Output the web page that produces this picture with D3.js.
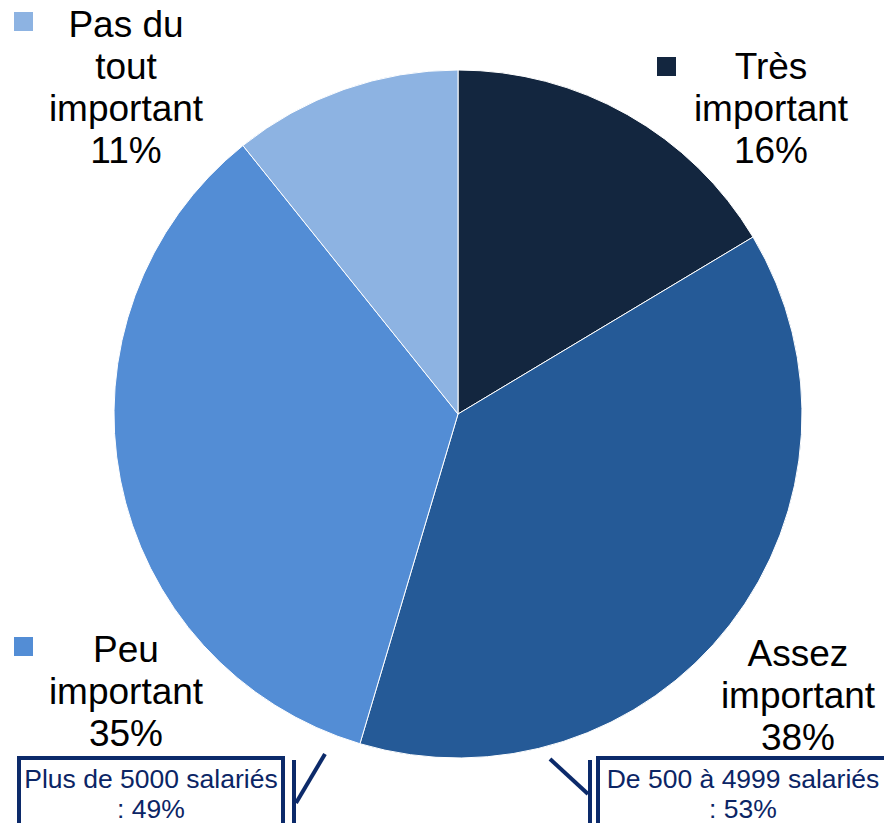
<!DOCTYPE html>
<html>
<head>
<meta charset="utf-8">
<script src="https://cdn.jsdelivr.net/npm/d3@7"></script>
<style>
  body { margin: 0; background: #fff; }
  text { font-family: "Liberation Sans", Arial, sans-serif; }
</style>
</head>
<body>
<div id="chart"></div>
<script>
// data
const categories = ["Très important", "Assez important", "Peu important", "Pas du tout important"];
const values = [16.4, 38.2, 34.65, 10.75];
const colors = ["#13263f", "#255a97", "#538dd5", "#8db3e2"];
const labelLines = [
  ["Très", "important"],
  ["Assez", "important"],
  ["Peu", "important"],
  ["Pas du", "tout", "important"]
];
const calloutTexts = [
  ["Plus de 5000 salariés", ": 49%"],
  ["De 500 à 4999 salariés", ": 53%"]
];

const width = 884, height = 823;
const cx = 458, cy = 414, radius = 344;

const svg = d3.select("#chart").append("svg")
  .attr("width", width)
  .attr("height", height);

const pie = d3.pie().sort(null).value(d => d);
const arc = d3.arc().innerRadius(0).outerRadius(radius);

const pieG = svg.append("g").attr("transform", `translate(${cx},${cy})`);
pieG.selectAll("path")
  .data(pie(values))
  .join("path")
  .attr("d", arc)
  .attr("fill", (d, i) => colors[i])
  .attr("stroke", "#fff")
  .attr("stroke-width", 1);

// label layout (legend marker + centered text block)
const labelLayout = [
  { marker: [657, 57], x: 771, y: 79 },
  { marker: null, x: 798, y: 666 },
  { marker: [14, 637], x: 126, y: 662 },
  { marker: [14, 12], x: 126, y: 37 }
];
const lineH = 42;

labelLayout.forEach((l, i) => {
  if (l.marker) {
    svg.append("rect")
      .attr("x", l.marker[0]).attr("y", l.marker[1])
      .attr("width", 19).attr("height", 19)
      .attr("fill", colors[i]);
  }
  const lines = labelLines[i].concat([Math.round(values[i]) + "%"]);
  const t = svg.append("text")
    .attr("text-anchor", "middle")
    .attr("font-size", 37)
    .attr("fill", "#000");
  lines.forEach((s, j) => {
    t.append("tspan").attr("x", l.x).attr("y", l.y + j * lineH).text(s);
  });
});

// callout boxes
const navy = "#0c2a6a";
const boxes = [
  { x: 19, y: 758, w: 264, cx: 151 },
  { x: 598, y: 758, w: 290, cx: 743 }
];
boxes.forEach((b, i) => {
  svg.append("rect")
    .attr("x", b.x).attr("y", b.y)
    .attr("width", b.w).attr("height", 100)
    .attr("fill", "#fff")
    .attr("stroke", navy).attr("stroke-width", 4);
  const t = svg.append("text")
    .attr("text-anchor", "middle")
    .attr("font-size", 26.5)
    .attr("fill", "#0b2565");
  calloutTexts[i].forEach((s, j) => {
    t.append("tspan").attr("x", b.cx).attr("y", 788 + j * 30).text(s);
  });
});

// connector brackets
const lineStyle = sel => sel.attr("stroke", navy).attr("stroke-width", 4).attr("fill", "none");
svg.append("line").attr("x1", 294).attr("y1", 760).attr("x2", 294).attr("y2", 823).call(lineStyle);
svg.append("line").attr("x1", 296).attr("y1", 803).attr("x2", 325).attr("y2", 754).call(lineStyle);
svg.append("line").attr("x1", 590).attr("y1", 760).attr("x2", 590).attr("y2", 823).call(lineStyle);
svg.append("line").attr("x1", 550).attr("y1", 759).attr("x2", 588).attr("y2", 794).call(lineStyle);
</script>
</body>
</html>
